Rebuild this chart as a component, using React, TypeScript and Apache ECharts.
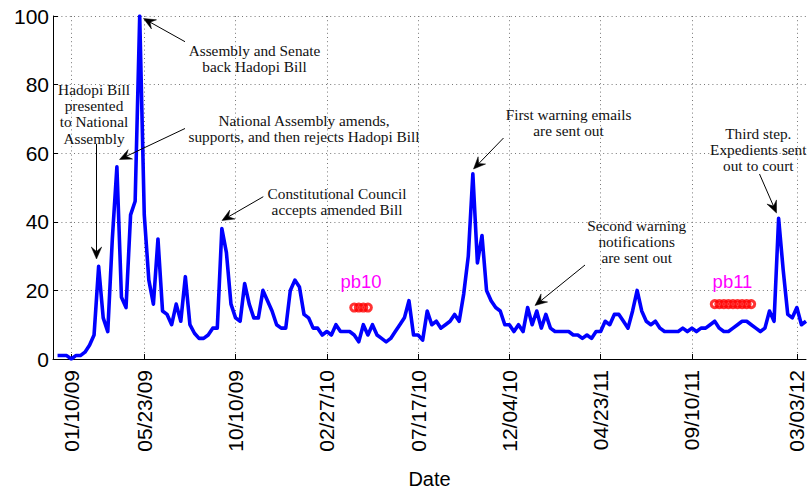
import React, { useEffect, useRef } from "react";
import * as echarts from "echarts";

// Weekly counts, week 0 .. week 164
const weeklyValues: number[] = [
  1, 1, 1, 0, 1, 1, 2, 4, 7, 27,
  12, 8, 35, 56, 18, 15, 42, 46, 100, 42,
  23, 16, 35, 14, 13, 10, 16, 11, 24, 10,
  7.5, 6, 6, 7, 9, 9, 38, 31, 16, 12,
  11, 22, 16, 12, 12, 20, 17, 14, 10, 9,
  9, 20, 23, 21, 13, 12, 9, 9, 7, 8,
  7, 10, 8, 8, 8, 7, 5, 10, 7, 10,
  7, 6, 5, 6, 8, 10, 12, 17, 7, 7,
  5.5, 14, 10, 11, 9, 10, 11, 13, 11, 19,
  30, 54, 28, 36, 20, 17, 15, 14, 10, 10,
  8, 10, 8, 15, 10, 14, 9, 13, 9, 8,
  8, 8, 8, 7, 7, 6, 7, 6, 8, 8,
  11, 10, 13, 13, 11, 9, 14, 20, 14, 11,
  10, 11, 9, 8, 8, 8, 8, 9, 8, 9,
  8, 9, 9, 10, 11, 9, 8, 8, 9, 10,
  11, 11, 10, 9, 8, 9, 14, 11, 41, 26,
  13, 12, 15, 10, 11,
];

// x tick marks (week index) and their labels
const tickWeeks: number[] = [3, 19, 39, 59, 79, 99, 119, 139, 162];
const tickLabels: string[] = [
  "01/10/09", "05/23/09", "10/10/09", "02/27/10", "07/17/10",
  "12/04/10", "04/23/11", "09/10/11", "03/03/12",
];

// y axis
const yMin = 0;
const yMax = 100;
const yStep = 20;

// pb10 / pb11 marker rows
const pb10Weeks: number[] = [65, 66, 67, 68];
const pb10Level = 15;
const pb11Weeks: number[] = [144, 145, 146, 147, 148, 149, 150, 151, 152];
const pb11Level = 16;

// categories: one padding week before the first data week
const categories: string[] = [];
for (let w = -1; w < weeklyValues.length; w++) categories.push(String(w));
const lineData: (number | null)[] = [null, ...weeklyValues];

// annotation layout (pixels)
type Ann = { text: string; cx: number; firstLineY: number; tail: [number, number]; tip: [number, number] };
const annotations: Ann[] = [
  { text: "Assembly and Senate\nback Hadopi Bill", cx: 254.5, firstLineY: 50.7, tail: [185, 41.7], tip: [143.5, 18.5] },
  { text: "Hadopi Bill\npresented\nto National\nAssembly", cx: 94, firstLineY: 89.5, tail: [96.5, 144], tip: [96.5, 259] },
  { text: "National Assembly amends,\nsupports, and then rejects Hadopi Bill", cx: 304, firstLineY: 120, tail: [185, 128.5], tip: [119.5, 159.5] },
  { text: "Constitutional Council\naccepts amended Bill", cx: 337, firstLineY: 193.3, tail: [263.3, 196.7], tip: [222, 220.5] },
  { text: "First warning emails\nare sent out", cx: 568.5, firstLineY: 114.5, tail: [503.5, 138], tip: [473.5, 169] },
  { text: "Second warning\nnotifications\nare sent out", cx: 636.7, firstLineY: 225, tail: [585, 265], tip: [535, 305.5] },
  { text: "Third step.\nExpedients sent\nout to court", cx: 758.3, firstLineY: 133.3, tail: [759.5, 174], tip: [776.5, 213] },
];

const pbTexts = [
  { text: "pb10", cx: 361, cy: 281 },
  { text: "pb11", cx: 732.5, cy: 281 },
];

const LINE_H = 16.2;

function arrowElements(tail: [number, number], tip: [number, number]) {
  const dx = tip[0] - tail[0];
  const dy = tip[1] - tail[1];
  const len = Math.sqrt(dx * dx + dy * dy);
  const ux = dx / len;
  const uy = dy / len;
  const nx = -uy;
  const ny = ux;
  const L = 12;
  const W = 5.2;
  const notch = 7.5;
  const bx = tip[0] - L * ux;
  const by = tip[1] - L * uy;
  const mx = tip[0] - notch * ux;
  const my = tip[1] - notch * uy;
  return [
    {
      type: "line",
      shape: { x1: tail[0], y1: tail[1], x2: mx, y2: my },
      style: { stroke: "#000", lineWidth: 1 },
      z: 10,
    },
    {
      type: "polygon",
      shape: {
        points: [
          [tip[0], tip[1]],
          [bx + W * nx, by + W * ny],
          [mx, my],
          [bx - W * nx, by - W * ny],
        ],
      },
      style: { fill: "#000", stroke: "#000", lineWidth: 0.5 },
      z: 10,
    },
  ];
}

export default function App() {
  const ref = useRef<HTMLDivElement>(null);

  useEffect(() => {
    if (!ref.current) return;
    const chart = echarts.init(ref.current, null, { renderer: "svg" });

    const tickCatSet = new Set<number>(tickWeeks.map((w) => w + 1));
    const labelByCat: Record<number, string> = {};
    tickWeeks.forEach((w, k) => (labelByCat[w + 1] = tickLabels[k]));

    const graphics: any[] = [];
    annotations.forEach((a) => {
      graphics.push({
        type: "text",
        x: a.cx,
        y: a.firstLineY - LINE_H / 2,
        z: 10,
        style: {
          text: a.text,
          fill: "#111",
          fontFamily: "Liberation Serif",
          fontSize: 15.3,
          lineHeight: LINE_H,
          align: "center",
          verticalAlign: "top",
        },
      });
      graphics.push(...arrowElements(a.tail, a.tip));
    });
    pbTexts.forEach((p) => {
      graphics.push({
        type: "text",
        x: p.cx,
        y: p.cy,
        z: 10,
        style: {
          text: p.text,
          fill: "#ff00ff",
          fontFamily: "Liberation Sans",
          fontSize: 18.5,
          align: "center",
          verticalAlign: "middle",
        },
      });
    });

    const gridLine = { color: "#777", width: 1, type: [1, 3.2] as any };
    const markerStyle = { color: "rgba(255,255,255,0)", borderColor: "#ff0000", borderWidth: 3 };

    chart.setOption({
      animation: false,
      backgroundColor: "#fff",
      textStyle: { fontFamily: "Liberation Sans" },
      grid: { left: 53, right: 3, top: 16, bottom: 130, containLabel: false, outerBoundsMode: "none" },
      xAxis: {
        type: "category",
        data: categories,
        boundaryGap: false,
        name: "Date",
        nameLocation: "middle",
        nameGap: 110,
        nameTextStyle: { fontSize: 20, color: "#000", fontFamily: "Liberation Sans" },
        axisLine: { show: true, lineStyle: { color: "#000", width: 1 } },
        axisTick: {
          show: true,
          inside: true,
          length: 5,
          interval: (i: number) => tickCatSet.has(i),
          lineStyle: { color: "#000", width: 1 },
        },
        axisLabel: {
          show: true,
          rotate: 90,
          margin: 11,
          fontSize: 21,
          color: "#000",
          fontFamily: "Liberation Sans",
          interval: (i: number) => tickCatSet.has(i),
          formatter: (_v: string, i: number) => labelByCat[i] ?? "",
        },
        splitLine: {
          show: true,
          interval: (i: number) => tickCatSet.has(i),
          lineStyle: gridLine,
        },
      },
      yAxis: {
        type: "value",
        min: yMin,
        max: yMax,
        interval: yStep,
        axisLine: { show: true, lineStyle: { color: "#000", width: 1 } },
        axisTick: { show: true, inside: true, length: 5, lineStyle: { color: "#000", width: 1 } },
        axisLabel: { fontSize: 21, color: "#000", margin: 4, fontFamily: "Liberation Sans" },
        splitLine: { show: true, lineStyle: gridLine },
      },
      series: [
        {
          type: "line",
          data: lineData,
          symbol: "none",
          lineStyle: { color: "#0000ff", width: 3.6, join: "round" },
          itemStyle: { color: "#0000ff" },
          z: 3,
        },
        {
          type: "scatter",
          data: pb10Weeks.map((w) => [String(w), pb10Level]),
          symbol: "circle",
          symbolSize: 7,
          itemStyle: markerStyle,
          z: 4,
        },
        {
          type: "scatter",
          data: pb11Weeks.map((w) => [String(w), pb11Level]),
          symbol: "circle",
          symbolSize: 7,
          itemStyle: markerStyle,
          z: 4,
        },
      ],
      graphic: graphics,
    });

    return () => chart.dispose();
  }, []);

  return (
    <div
      ref={ref}
      style={{ position: "fixed", left: 0, top: 0, width: 809, height: 489, background: "#fff" }}
    />
  );
}
